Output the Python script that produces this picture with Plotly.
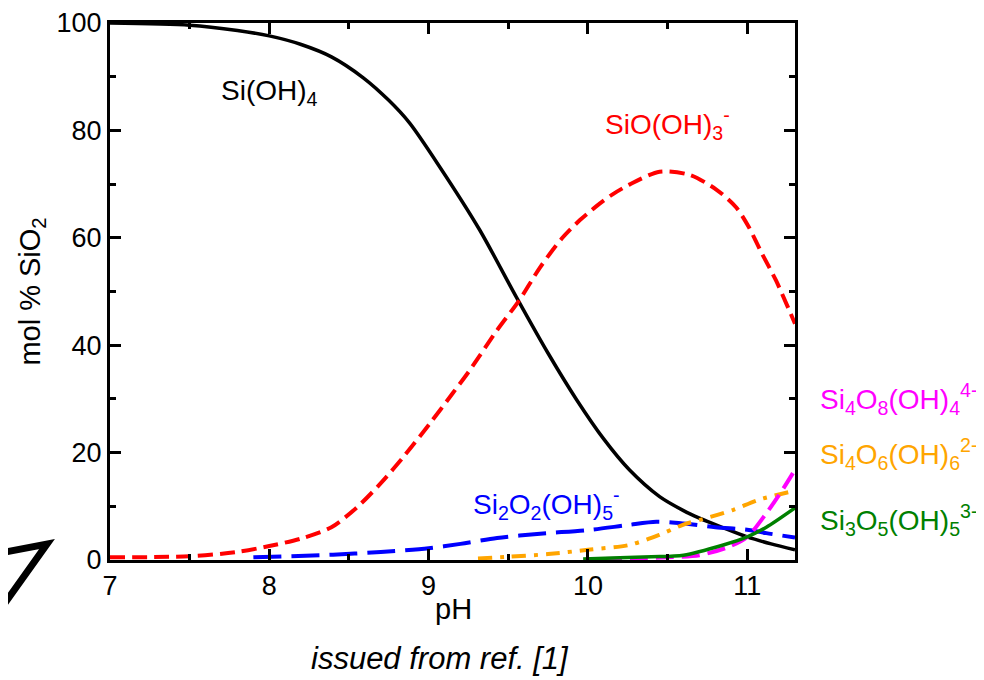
import plotly.graph_objects as go

# ---- data ----
ph_sioh4 = [7.0, 7.5, 7.8, 8.0, 8.2, 8.39, 8.59, 8.75, 8.88, 9.07, 9.32, 9.55, 9.75, 9.93, 10.1, 10.26, 10.45, 10.6, 10.7, 10.85, 11.0, 11.15, 11.3]
v_sioh4 = [100, 99.6, 98.6, 97.6, 96.0, 93.7, 89.8, 85.6, 81.4, 73.2, 61.5, 49.0, 38.5, 29.8, 22.5, 16.8, 11.8, 9.2, 7.8, 6.0, 4.3, 3.0, 1.9]

ph_sio = [7.0, 7.5, 7.8, 8.0, 8.2, 8.39, 8.55, 8.7, 8.85, 9.01, 9.15, 9.26, 9.43, 9.57, 9.7, 9.84, 9.95, 10.05, 10.15, 10.26, 10.45, 10.64, 10.81, 10.93, 11.01, 11.09, 11.18, 11.3]
v_sio = [0.5, 0.7, 1.5, 2.6, 4.0, 6.1, 9.8, 14.3, 19.5, 25.5, 31.0, 35.4, 42.8, 48.4, 54.5, 60.0, 63.3, 65.8, 68.0, 69.9, 72.3, 71.7, 68.9, 65.7, 62.0, 57.2, 52.1, 44.0]

ph_si2 = [7.9, 8.4, 8.7, 9.0, 9.2, 9.43, 9.7, 10.01, 10.25, 10.43, 10.6, 10.8, 11.01, 11.12, 11.3]
v_si2 = [0.5, 1.0, 1.5, 2.2, 3.0, 4.1, 4.9, 5.6, 6.5, 7.1, 6.8, 6.1, 5.6, 5.0, 4.2]

ph_si4o6 = [9.31, 9.5, 9.75, 10.0, 10.26, 10.45, 10.6, 10.72, 10.91, 11.07, 11.3]
v_si4o6 = [0.3, 0.6, 1.1, 1.9, 2.8, 4.7, 6.6, 7.6, 9.3, 11.2, 12.9]

ph_si4o8 = [10.1, 10.3, 10.5, 10.7, 10.88, 11.0, 11.12, 11.22, 11.3]
v_si4o8 = [0.2, 0.3, 0.5, 0.9, 2.4, 4.3, 8.7, 13.0, 16.8]

ph_si3 = [9.97, 10.2, 10.4, 10.6, 10.85, 11.0, 11.12, 11.3]
v_si3 = [0.2, 0.4, 0.6, 0.9, 2.8, 4.3, 6.1, 9.7]

x_ticks = [7, 8, 9, 10, 11]
y_ticks = [0, 20, 40, 60, 80, 100]

FONT = "Liberation Sans, Arial, Helvetica, sans-serif"
SM = 0.8

fig = go.Figure()
fig.add_trace(go.Scatter(x=ph_sioh4, y=v_sioh4, mode="lines", line=dict(color="black", width=3.5, shape="spline", smoothing=SM)))
fig.add_trace(go.Scatter(x=ph_sio, y=v_sio, mode="lines", line=dict(color="#ff0000", width=4, dash="15px,7px", shape="spline", smoothing=SM)))
fig.add_trace(go.Scatter(x=ph_si2, y=v_si2, mode="lines", line=dict(color="#0000ff", width=4, dash="28px,10px", shape="spline", smoothing=SM)))
fig.add_trace(go.Scatter(x=ph_si4o6, y=v_si4o6, mode="lines", line=dict(color="#ffa500", width=4, dash="14px,8px,4px,8px", shape="spline", smoothing=SM)))
fig.add_trace(go.Scatter(x=ph_si4o8, y=v_si4o8, mode="lines", line=dict(color="#ff00ff", width=4, dash="18px,8px", shape="spline", smoothing=SM)))
fig.add_trace(go.Scatter(x=ph_si3, y=v_si3, mode="lines", line=dict(color="#008000", width=3.5, shape="spline", smoothing=SM)))

axis_common = dict(
    showline=True, linecolor="black", linewidth=3, mirror="ticks",
    ticks="inside", ticklen=11, tickwidth=2.5, tickcolor="black",
    showgrid=False, zeroline=False, automargin=False,
    tickfont=dict(family=FONT, size=27, color="black"),
)
fig.update_xaxes(range=[7, 11.3], tickvals=x_ticks, ticktext=[str(v) for v in x_ticks],
                 minor=dict(dtick=0.5, ticks="inside", ticklen=6, tickwidth=2.5, tickcolor="black", showgrid=False),
                 **axis_common)
fig.update_yaxes(range=[0, 100], tickvals=y_ticks, ticktext=[str(v) for v in y_ticks],
                 minor=dict(dtick=10, ticks="inside", ticklen=6, tickwidth=2.5, tickcolor="black", showgrid=False),
                 title=dict(text="mol % SiO<sub>2</sub>", font=dict(family=FONT, size=29, color="black"), standoff=8),
                 **axis_common)

# page pixel -> paper coordinates (plot area spans page x 110..795, y 23..560)
PL, PT, PW, PH = 110, 23, 685, 537
def px(xp, yp):
    return ((xp - PL) / PW, (PT + PH - yp) / PH)

# x-axis title
tx, ty = px(453, 609)
fig.add_annotation(x=tx, y=ty, xref="paper", yref="paper", text="pH", showarrow=False,
                   xanchor="center", yanchor="middle",
                   font=dict(family=FONT, size=29, color="black"))

LF = 28
labels = [
    ("Si(OH)<sub>4</sub>", 219, 92, "black"),
    ("SiO(OH)<sub>3</sub><sup>-</sup>", 603, 124, "#ff0000"),
    ("Si<sub>2</sub>O<sub>2</sub>(OH)<sub>5</sub><sup>-</sup>", 471, 504, "#0000ff"),
    ("Si<sub>4</sub>O<sub>8</sub>(OH)<sub>4</sub><sup>4-</sup>", 818, 399, "#ff00ff"),
    ("Si<sub>4</sub>O<sub>6</sub>(OH)<sub>6</sub><sup>2-</sup>", 818, 454, "#ffa500"),
    ("Si<sub>3</sub>O<sub>5</sub>(OH)<sub>5</sub><sup>3-</sup>", 818, 520, "#008000"),
]
for txt, xp, yp, c in labels:
    ax, ay = px(xp, yp)
    fig.add_annotation(x=ax, y=ay, xref="paper", yref="paper", text=txt, showarrow=False,
                       xanchor="left", yanchor="middle",
                       font=dict(family=FONT, size=LF, color=c))

cx, cy = px(440, 658)
fig.add_annotation(x=cx, y=cy, xref="paper", yref="paper",
                   text="<i>issued from ref. [1]</i>", showarrow=False,
                   xanchor="center", yanchor="middle",
                   font=dict(family=FONT, size=31, color="black"))

# decorative bracket at lower-left
pts = [px(0, 553), px(47, 544), px(0, 610)]
path = "M {} {} L {} {} L {} {}".format(pts[0][0], pts[0][1], pts[1][0], pts[1][1], pts[2][0], pts[2][1])
fig.add_shape(type="path", path=path, xref="paper", yref="paper",
              line=dict(color="black", width=7), layer="above")

# page has an 8px body margin, so the figure is offset by 8px
OFF = 8
W, H = 984 - OFF, 680 - OFF
fig.update_layout(
    width=W, height=H,
    margin=dict(l=PL - OFF, r=W - (PL - OFF) - PW, t=PT - OFF, b=H - (PT - OFF) - PH, autoexpand=False),
    plot_bgcolor="white", paper_bgcolor="white",
    showlegend=False,
)

fig.write_html("out.html")
